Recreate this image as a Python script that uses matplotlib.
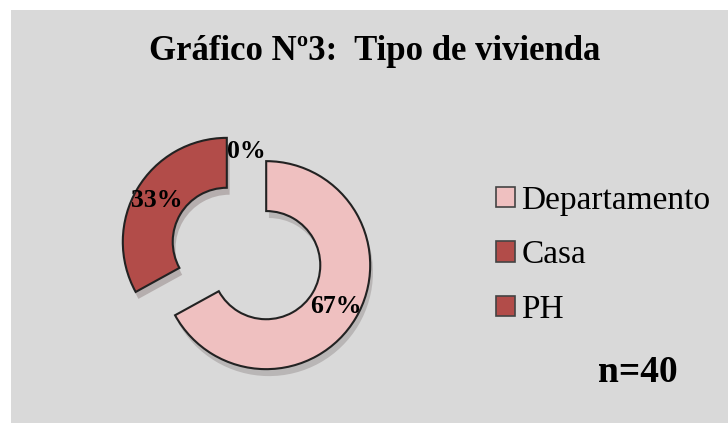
import matplotlib.pyplot as plt
import matplotlib.patheffects as pe
from matplotlib.patches import Rectangle, Patch

# data
categorias = ["Departamento", "Casa", "PH"]
porcentajes = [67, 33, 0]
colores = ["#EFC0C0", "#B24C49", "#B24C49"]
separacion = [0.22, 0.22, 0.2]
titulo = "Gráfico Nº3:  Tipo de vivienda"
n_total = "n=40"

plt.rcParams["font.family"] = ["Liberation Serif", "DejaVu Serif"]

fig = plt.figure(figsize=(7.28, 4.23), dpi=100)
fig.patch.set_facecolor("white")

# gray chart area
fig.patches.append(Rectangle((11 / 728, 0), 1 - 11 / 728, 1 - 10 / 423,
                             transform=fig.transFigure, facecolor="#D9D9D9",
                             edgecolor="none", zorder=-5))

# donut axes (radius 1 ~ 104 px)
size = 3.2 * 104
ax = fig.add_axes([(246.5 - size / 2) / 728, (169.5 - size / 2) / 423,
                   size / 728, size / 423])

wedges, texts, autotexts = ax.pie(
    porcentajes, colors=colores, explode=separacion, startangle=90,
    counterclock=False, autopct="%1.0f%%", pctdistance=0.78,
    wedgeprops=dict(width=0.48, edgecolor="#222222", linewidth=1.5),
    textprops=dict(fontsize=18.5, fontweight="bold", color="black"))

ax.set_xlim(-1.6, 1.6)
ax.set_ylim(-1.6, 1.6)
ax.set_aspect("equal")
ax.axis("off")

for w, v in zip(wedges, porcentajes):
    if v == 0:
        w.set_linewidth(0)
    else:
        w.set_path_effects([pe.SimplePatchShadow(offset=(2, -5), alpha=0.22),
                            pe.Normal()])

fig.text(375 / 728, 1 - 52 / 423, titulo, ha="center", va="center",
         fontsize=25, fontweight="bold")

handles = [Patch(facecolor=c, edgecolor="#444444", linewidth=1.2) for c in colores]
fig.legend(handles, categorias, loc="upper left",
           bbox_to_anchor=(483 / 728, 1 - 172 / 423), frameon=False,
           fontsize=24, handlelength=0.55, handleheight=0.55,
           handletextpad=0.2, labelspacing=0.72, borderaxespad=0)

fig.text(638 / 728, 1 - 372 / 423, n_total, ha="center", va="center",
         fontsize=27, fontweight="bold")

fig.savefig("out.png", dpi=100, facecolor=fig.get_facecolor())
